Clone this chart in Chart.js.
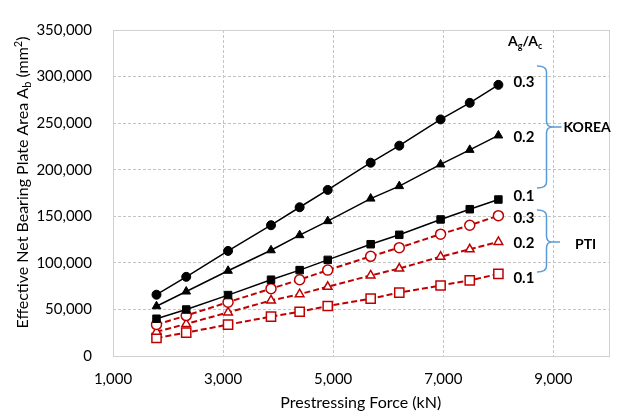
<!DOCTYPE html>
<html>
<head>
<meta charset="utf-8">
<script src="https://cdn.jsdelivr.net/npm/chart.js@4"></script>
<style>
html,body{margin:0;padding:0;background:#fff;}
#wrap{width:617px;height:412px;position:relative;}
</style>
</head>
<body>
<div id="wrap"><canvas id="c" width="617" height="412"></canvas></div>
<script>
// ---- data ----
const forces = [1790, 2330, 3090, 3870, 4390, 4900, 5680, 6200, 6950, 7480, 8000];
const korea03 = [65800, 85000, 112800, 140400, 159700, 178300, 207500, 225800, 254000, 271800, 291100];
const korea02 = [53400, 69200, 91500, 113500, 129700, 144800, 169000, 182400, 205700, 221300, 236800];
const korea01 = [40000, 49900, 65400, 81900, 92200, 103200, 120000, 130100, 146600, 157600, 168000];
const pti03 = [33700, 43400, 57800, 72300, 81900, 92200, 107000, 116300, 130800, 140400, 150700];
const pti02 = [26100, 34400, 46800, 59600, 66400, 74300, 86500, 93900, 106600, 114600, 122500];
const pti01 = [19300, 25100, 33700, 42300, 47500, 53700, 61500, 68100, 75700, 81200, 88100];
const ratioLabels = ['0.3', '0.2', '0.1', '0.3', '0.2', '0.1'];
const groupLabels = ['KOREA', 'PTI'];
const xTicks = [1000, 3000, 5000, 7000, 9000];
const yTicks = [0, 50000, 100000, 150000, 200000, 250000, 300000, 350000];

const FONT = 'Lato';
const RED = '#c00000';
const pts = arr => arr.map((v, i) => ({x: forces[i], y: v}));

function korea(data, shape, r) {
  return {data: pts(data), borderColor: '#000', backgroundColor: '#000', borderWidth: 1.5,
    pointStyle: shape, pointRadius: r, pointBackgroundColor: '#000', pointBorderColor: '#000',
    pointBorderWidth: 1, showLine: true, tension: 0};
}
function pti(data, shape, r) {
  return {data: pts(data), borderColor: RED, backgroundColor: '#fff', borderWidth: 2, borderDash: [6, 3],
    pointStyle: shape, pointRadius: r, pointBackgroundColor: '#fff', pointBorderColor: RED,
    pointBorderWidth: 1.5, showLine: true, tension: 0};
}

const frame = {
  id: 'frame',
  beforeDatasetsDraw(chart) {
    const {ctx, chartArea: a} = chart;
    ctx.save();
    ctx.strokeStyle = '#d0d0d0';
    ctx.lineWidth = 1;
    ctx.strokeRect(Math.round(a.left) + 0.5, Math.round(a.top) + 0.5, Math.round(a.right - a.left), Math.round(a.bottom - a.top));
    ctx.restore();
  }
};

function brace(ctx, xL, xV, xTip, xLine, yTop, yMid, yBot) {
  const r = 6;
  ctx.beginPath();
  ctx.moveTo(xL, yTop);
  ctx.quadraticCurveTo(xV, yTop, xV, yTop + r);
  ctx.lineTo(xV, yMid - r);
  ctx.quadraticCurveTo(xV, yMid, xTip, yMid);
  ctx.quadraticCurveTo(xV, yMid, xV, yMid + r);
  ctx.lineTo(xV, yBot - r);
  ctx.quadraticCurveTo(xV, yBot, xL, yBot);
  ctx.moveTo(xTip, yMid);
  ctx.lineTo(xLine, yMid);
  ctx.stroke();
}

function richText(ctx, parts, x, y) {
  let cx = x;
  for (const p of parts) {
    ctx.font = (p[2] ? 'bold ' : '') + p[1] + 'px ' + FONT;
    ctx.fillText(p[0], cx, y + p[3]);
    cx += ctx.measureText(p[0]).width;
  }
  return cx - x;
}
function richWidth(ctx, parts) {
  let w = 0;
  for (const p of parts) {
    ctx.font = (p[2] ? 'bold ' : '') + p[1] + 'px ' + FONT;
    w += ctx.measureText(p[0]).width;
  }
  return w;
}

const annot = {
  id: 'annot',
  afterDraw(chart) {
    const ctx = chart.ctx;
    ctx.save();
    ctx.fillStyle = '#000';
    ctx.textBaseline = 'middle';
    ctx.textAlign = 'left';
    const dy = [-3, 2, -3, 3, 1, 4];
    chart.data.datasets.forEach((ds, i) => {
      const meta = chart.getDatasetMeta(i);
      const p = meta.data[meta.data.length - 1];
      ctx.font = 'bold 15px ' + FONT;
      ctx.fillText(ratioLabels[i], p.x + 15, p.y + dy[i]);
    });
    ctx.textBaseline = 'alphabetic';
    richText(ctx, [['A', 14, true, 0], ['g', 9, true, 3], ['/A', 14, true, 0], ['c', 9, true, 3]], 508, 46);
    ctx.strokeStyle = '#5b9bd5';
    ctx.lineWidth = 1.5;
    brace(ctx, 537, 546.5, 553, 561.5, 66, 127, 188);
    brace(ctx, 537, 546.5, 552, 560, 210, 242, 272);
    ctx.textBaseline = 'middle';
    ctx.font = 'bold 14px ' + FONT;
    ctx.fillText(groupLabels[0], 563.5, 127.5);
    ctx.fillText(groupLabels[1], 575, 244);
    ctx.translate(23, 182.5);
    ctx.rotate(-Math.PI / 2);
    ctx.textBaseline = 'middle';
    const parts = [['Effective Net Bearing Plate Area A', 16, false, 0], ['b', 11, false, 4], [' (mm', 16, false, 0], ['2', 11, false, -5], [')', 16, false, 0]];
    const w = richWidth(ctx, parts);
    richText(ctx, parts, -w / 2, 0);
    ctx.restore();
  }
};

new Chart(document.getElementById('c'), {
  type: 'scatter',
  data: {
    datasets: [
      korea(korea03, 'circle', 4.5),
      korea(korea02, 'triangle', 5),
      korea(korea01, 'rect', 5.3),
      pti(pti03, 'circle', 5),
      pti(pti02, 'triangle', 5),
      pti(pti01, 'rect', 6.5)
    ]
  },
  options: {
    responsive: false,
    animation: false,
    devicePixelRatio: 1,
    layout: {padding: {top: 17, right: 8.5, left: 0, bottom: 0}},
    plugins: {legend: {display: false}, tooltip: {enabled: false}},
    scales: {
      x: {
        type: 'linear', min: 1000, max: 10000,
        afterBuildTicks: s => { s.ticks = xTicks.map(v => ({value: v})); },
        afterFit: s => { s.height = 56; },
        grid: {color: '#c4c4c4', drawTicks: false},
        border: {display: false, dash: [3, 2]},
        ticks: {padding: 14, color: '#000', font: {family: FONT, size: 15},
          callback: v => v.toLocaleString('en-US')},
        title: {display: true, text: 'Prestressing Force (kN)', color: '#000', font: {family: FONT, size: 16}, padding: {top: 0, bottom: 0}}
      },
      y: {
        type: 'linear', min: 0, max: 350000,
        afterBuildTicks: s => { s.ticks = yTicks.map(v => ({value: v})); },
        afterFit: s => { s.width = 113; },
        grid: {color: '#c4c4c4', drawTicks: false},
        border: {display: false, dash: [3, 2]},
        ticks: {padding: 21, color: '#000', font: {family: FONT, size: 15},
          callback: v => v.toLocaleString('en-US')}
      }
    }
  },
  plugins: [frame, annot]
});
</script>
</body>
</html>
